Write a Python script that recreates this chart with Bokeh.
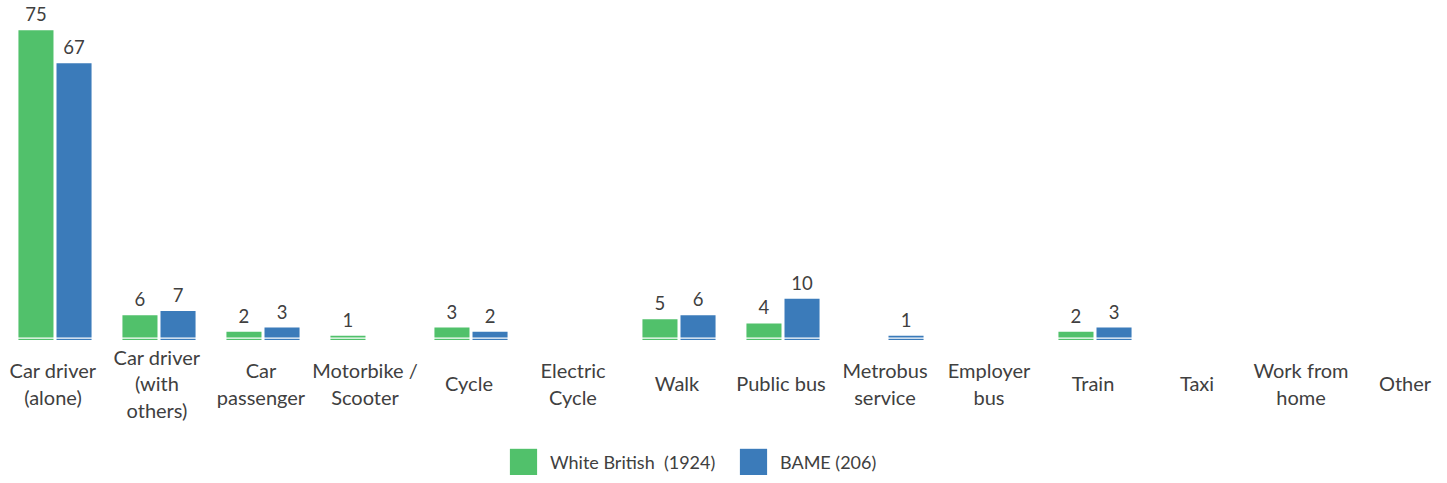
from bokeh.plotting import figure
from bokeh.models import ColumnDataSource, Range1d, Span, Legend, LegendItem
from bokeh.transform import dodge
from bokeh.core.properties import value
from bokeh.embed import file_html
from bokeh.resources import INLINE

categories = ["Car driver\n(alone)", "Car driver\n(with\nothers)", "Car\npassenger",
              "Motorbike /\nScooter", "Cycle", "Electric\nCycle", "Walk", "Public bus",
              "Metrobus\nservice", "Employer\nbus", "Train", "Taxi", "Work from\nhome", "Other"]
white_british = [75, 6, 2, 1, 3, 0, 5, 4, 0, 0, 2, 0, 0, 0]
bame = [67, 7, 3, 0, 2, 0, 6, 10, 1, 0, 3, 0, 0, 0]
series_names = ["White British  (1924)", "BAME (206)"]

GREEN = "#51C16B"
BLUE = "#3B7BBA"
TEXT = "#404040"
FONT = "Lato"

idx = list(range(len(categories)))

p = figure(width=1439, height=475, output_backend="svg", toolbar_location=None,
           x_range=Range1d(-0.524, 13.3125), y_range=Range1d(-32.81, 82.20),
           min_border=0, min_border_left=0, min_border_right=0,
           min_border_top=0, min_border_bottom=0)
p.xaxis.visible = False
p.yaxis.visible = False
p.xgrid.visible = False
p.ygrid.visible = False
p.outline_line_color = None
p.background_fill_color = "white"

renderers = []
for vals, color, off in [(white_british, GREEN, -0.183), (bame, BLUE, 0.183)]:
    src = ColumnDataSource(dict(
        x=[i for i, v in zip(idx, vals) if v > 0],
        top=[v for v in vals if v > 0],
        label=[str(v) for v in vals if v > 0],
    ))
    r = p.vbar(x=dodge("x", off, range=p.x_range), top="top", bottom=0, width=0.337,
               source=src, fill_color=color, line_color=None)
    renderers.append(r)
    p.text(x=dodge("x", off, range=p.x_range), y="top", text="label", source=src,
           text_align="center", text_baseline="alphabetic", y_offset=-16,
           text_font=value(FONT), text_font_size="18.5px", text_color=TEXT)

# thin white stripe near the base of the bars
p.add_layout(Span(location=0.45, dimension="width", line_color="white", line_width=1.3))

cat_src = ColumnDataSource(dict(x=idx, label=categories))
p.text(x="x", y=-10.53, text="label", source=cat_src, text_align="center",
       text_baseline="middle", text_line_height=1.10, x_offset=-2,
       text_font=value(FONT), text_font_size="20px", text_color=TEXT)

for r, name, loc in [(renderers[0], series_names[0], (506, -3)),
                     (renderers[1], series_names[1], (736, -3))]:
    lg = Legend(items=[LegendItem(label=name, renderers=[r])], location=loc,
                orientation="horizontal", glyph_width=34, glyph_height=33,
                label_standoff=10, padding=0, margin=0, spacing=0,
                border_line_color=None, background_fill_alpha=0,
                label_text_font=FONT, label_text_font_size="18px",
                label_text_color=TEXT)
    p.add_layout(lg)

open("out.html", "w").write(file_html(p, INLINE))
